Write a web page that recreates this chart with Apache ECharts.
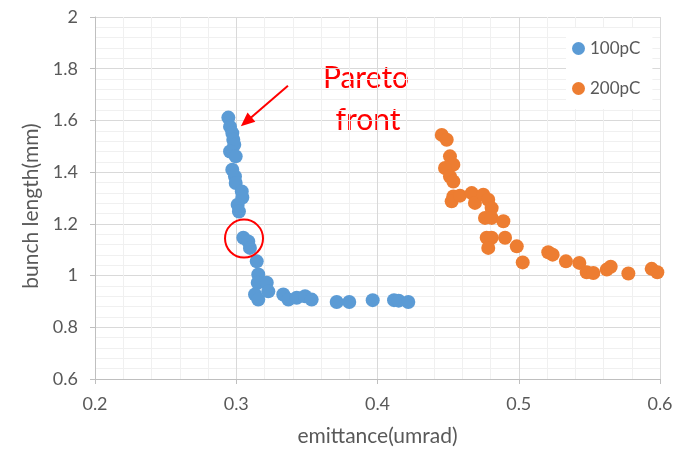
<!DOCTYPE html>
<html>
<head>
<meta charset="utf-8">
<script src="https://cdn.jsdelivr.net/npm/echarts@6/dist/echarts.min.js"></script>
<style>
html,body{margin:0;padding:0;background:#fff;}
#chart{width:681px;height:452px;}
</style>
</head>
<body>
<div id="chart"></div>
<script>
// ---- data ----
const seriesNames = ['100pC', '200pC'];
const emit100 = [0.2944,0.2956,0.2972,0.2979,0.2986,0.2956,0.2996,0.2972,0.2991,0.2996,0.3039,0.3043,0.3010,0.3019,
  0.3050,0.3085,0.3097,0.3145,0.3156,0.3152,0.3216,0.3133,0.3156,0.3227,0.3333,0.3369,0.3428,0.3487,0.3534,
  0.3711,0.3800,0.3966,0.4117,0.4150,0.4218];
const bunch100 = [1.611,1.576,1.551,1.525,1.506,1.480,1.461,1.409,1.383,1.358,1.325,1.302,1.274,1.248,
  1.146,1.132,1.107,1.055,1.004,0.972,0.972,0.927,0.907,0.939,0.927,0.907,0.914,0.920,0.907,
  0.898,0.898,0.905,0.905,0.903,0.898];
const emit200 = [0.4455,0.4490,0.4513,0.4537,0.4478,0.4513,0.4537,0.4537,0.4525,0.4584,0.4667,0.4690,0.4749,0.4784,
  0.4808,0.4761,0.4808,0.4891,0.4773,0.4808,0.4784,0.4903,0.4986,0.5028,0.5209,0.5240,0.5334,0.5429,0.5481,
  0.5528,0.5623,0.5651,0.5776,0.5941,0.5981];
const bunch200 = [1.544,1.525,1.461,1.429,1.416,1.383,1.364,1.306,1.287,1.309,1.319,1.281,1.313,1.293,
  1.261,1.223,1.223,1.210,1.146,1.146,1.107,1.146,1.113,1.051,1.090,1.081,1.055,1.049,1.013,
  1.010,1.023,1.034,1.008,1.026,1.013];
const xTicks = {min: 0.2, max: 0.6, interval: 0.1};
const yTicks = {min: 0.6, max: 2.0, interval: 0.2};
const annotationText = ['Pareto', 'front'];
const arrowFrom = [0.3366, 1.734];
const arrowTo = [0.3070, 1.595];
const circleAt = [0.3055, 1.143];

const zip = (a, b) => a.map((v, i) => [v, b[i]]);
const gray = '#595959';
const font = 'Lato, "Open Sans", sans-serif';

const chart = echarts.init(document.getElementById('chart'), null, {renderer: 'canvas'});
chart.setOption({
  animation: false,
  backgroundColor: '#fff',
  grid: {left: 95, right: 21, top: 17, bottom: 72},
  xAxis: {
    type: 'value', min: xTicks.min, max: xTicks.max, interval: xTicks.interval,
    name: 'emittance(umrad)', nameLocation: 'middle', nameGap: 47,
    nameTextStyle: {color: gray, fontSize: 21, fontFamily: font},
    axisLine: {show: true, lineStyle: {color: '#bfbfbf'}},
    axisTick: {show: true, length: 5, lineStyle: {color: '#bfbfbf'}},
    axisLabel: {color: gray, fontSize: 18, fontFamily: font, margin: 16},
    splitLine: {show: true, lineStyle: {color: '#d9d9d9'}},
    minorTick: {show: false, splitNumber: 5},
    minorSplitLine: {show: true, lineStyle: {color: '#f0f0f0'}}
  },
  yAxis: {
    type: 'value', min: yTicks.min, max: yTicks.max, interval: yTicks.interval,
    name: 'bunch length(mm)', nameLocation: 'middle', nameGap: 53,
    nameTextStyle: {color: gray, fontSize: 21, fontFamily: font, padding: [0, 16, 0, 0]},
    axisLine: {show: true, lineStyle: {color: '#bfbfbf'}},
    axisTick: {show: true, length: 5, lineStyle: {color: '#bfbfbf'}},
    axisLabel: {color: gray, fontSize: 18, fontFamily: font, margin: 17,
      formatter: v => String(+v.toFixed(1))},
    splitLine: {show: true, lineStyle: {color: '#d9d9d9'}},
    minorTick: {show: false, splitNumber: 5},
    minorSplitLine: {show: true, lineStyle: {color: '#f0f0f0'}}
  },
  legend: {
    orient: 'vertical', left: 566, top: 28,
    backgroundColor: '#fff', padding: [12, 12, 12, 6],
    itemWidth: 13, itemHeight: 13, itemGap: 23, icon: 'circle',
    textStyle: {color: gray, fontSize: 17, fontFamily: font},
    data: seriesNames
  },
  series: [
    {
      name: seriesNames[0], type: 'scatter', symbolSize: 14,
      itemStyle: {color: '#5B9BD5', opacity: 1},
      data: zip(emit100, bunch100),
      markPoint: {
        symbol: 'circle', symbolSize: 38, silent: true,
        itemStyle: {color: 'rgba(0,0,0,0)', borderColor: '#ff0000', borderWidth: 2},
        label: {show: false},
        data: [{coord: circleAt}]
      },
      markLine: {
        silent: true, symbol: ['none', 'triangle'], symbolSize: [12, 14],
        lineStyle: {color: '#ff0000', width: 2, type: 'solid'},
        label: {show: false},
        data: [[{coord: arrowFrom}, {coord: arrowTo}]]
      }
    },
    {
      name: seriesNames[1], type: 'scatter', symbolSize: 14,
      itemStyle: {color: '#ED7D31', opacity: 1},
      data: zip(emit200, bunch200)
    }
  ],
  graphic: [
    {type: 'text', x: 366, y: 78, style: {text: annotationText[0], fill: '#ff0000', fontSize: 30, fontFamily: font, align: 'center', verticalAlign: 'middle'}},
    {type: 'text', x: 368, y: 120, style: {text: annotationText[1], fill: '#ff0000', fontSize: 30, fontFamily: font, align: 'center', verticalAlign: 'middle'}}
  ]
});
</script>
</body>
</html>
